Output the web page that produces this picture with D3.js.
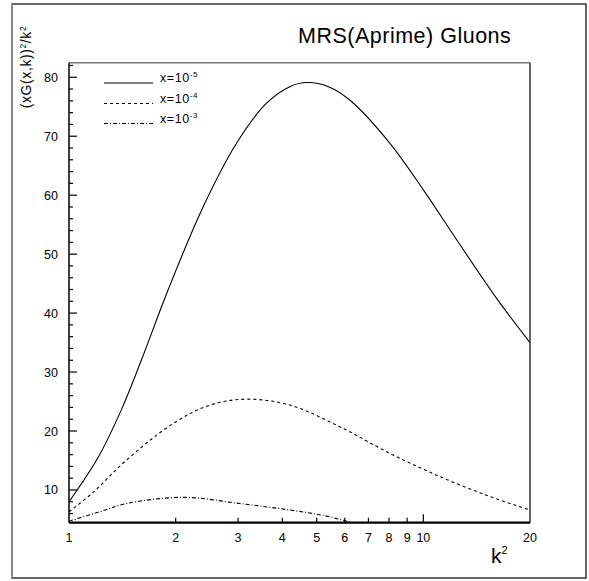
<!DOCTYPE html>
<html>
<head>
<meta charset="utf-8">
<script src="https://cdn.jsdelivr.net/npm/d3@7"></script>
<style>
  body { margin: 0; background: #fff; }
  text { font-family: "Liberation Sans", Arial, sans-serif; fill: #000; }
</style>
</head>
<body>
<div id="chart"></div>
<script>
// k^2 values and (xG(x,k))^2/k^2
const k5 = [1, 1.21, 1.41, 1.6, 1.9, 2.39, 2.97, 3.61, 4.2, 4.69, 5.4, 6.21, 8.05, 10, 12.43, 16.1, 20];
const g5 = [8.0, 15.6, 23.8, 32.0, 43.8, 58.0, 68.8, 75.6, 78.4, 79.1, 78.4, 76.1, 68.8, 60.9, 52.4, 42.5, 35.0];

const k4 = [1, 1.17, 1.455, 1.97, 2.5, 3.17, 4.2, 5.82, 8.05, 11.1, 15.4, 20];
const g4 = [6.3, 9.6, 15.1, 21.3, 24.4, 25.4, 24.4, 20.7, 16.2, 12.3, 8.9, 6.6];

const k3 = [1, 1.22, 1.455, 2.1, 3.04, 4.2, 5.2, 6.3];
const g3 = [4.7, 6.3, 7.7, 8.75, 7.7, 6.6, 5.7, 4.45];

const xTicks = [1, 2, 3, 4, 5, 6, 7, 8, 9, 10, 20];
const yTicks = [10, 20, 30, 40, 50, 60, 70, 80];
const legendLabels = ["-5", "-4", "-3"];

const W = 589, H = 581;
const margin = { top: 62.7, right: 59, bottom: 58.3, left: 69 };
const width = W - margin.left - margin.right;
const height = H - margin.top - margin.bottom;

const svg = d3.select("#chart").append("svg")
  .attr("width", W).attr("height", H);

// outer frame
svg.append("rect")
  .attr("x", 12).attr("y", 4).attr("width", 574).attr("height", 574)
  .attr("fill", "none").attr("stroke", "#333").attr("stroke-width", 1.5);
svg.append("line")
  .attr("x1", 12).attr("x2", 12).attr("y1", 4).attr("y2", 578)
  .attr("stroke", "#888").attr("stroke-width", 2);

const g = svg.append("g")
  .attr("transform", "translate(" + margin.left + "," + margin.top + ")");

const x = d3.scaleLog().domain([1, 20]).range([0, width]);
const y = d3.scaleLinear().domain([4.45, 82.47]).range([height, 0]);

g.append("clipPath").attr("id", "clip")
  .append("rect").attr("width", width).attr("height", height);

// plot box
g.append("line").attr("x1", 0).attr("x2", width).attr("y1", 0).attr("y2", 0)
  .attr("stroke", "#777").attr("stroke-width", 1.5);
g.append("line").attr("x1", width).attr("x2", width).attr("y1", 0).attr("y2", height)
  .attr("stroke", "#000").attr("stroke-width", 1.2);
g.append("line").attr("x1", 0).attr("x2", 0).attr("y1", 0).attr("y2", height)
  .attr("stroke", "#000").attr("stroke-width", 1.5);
g.append("line").attr("x1", 0).attr("x2", width).attr("y1", height).attr("y2", height)
  .attr("stroke", "#000").attr("stroke-width", 2.2);

// y ticks (inward)
const yMinor = d3.range(6, 83, 2);
g.selectAll(".ymin").data(yMinor).enter().append("line")
  .attr("x1", 0).attr("x2", d => d % 10 === 0 ? 8 : 4)
  .attr("y1", d => y(d)).attr("y2", d => y(d))
  .attr("stroke", "#000").attr("stroke-width", 1.2);
g.selectAll(".ylab").data(yTicks).enter().append("text")
  .attr("x", -11).attr("y", d => y(d) + 4.5)
  .attr("text-anchor", "end").attr("font-size", 12.5)
  .text(d => d);

// x ticks (inward)
g.selectAll(".xt").data(xTicks.slice(1, 10)).enter().append("line")
  .attr("x1", d => x(d)).attr("x2", d => x(d))
  .attr("y1", height).attr("y2", d => height - (d === 10 ? 8.5 : 5))
  .attr("stroke", "#000").attr("stroke-width", 1.2);
g.selectAll(".xlab").data(xTicks).enter().append("text")
  .attr("x", d => x(d)).attr("y", height + 19.5)
  .attr("text-anchor", "middle").attr("font-size", 12.5)
  .text(d => d);

// curves
const line = d3.line()
  .x(d => x(d[0])).y(d => y(d[1]))
  .curve(d3.curveCatmullRom.alpha(0.5));

const series = [
  { k: k5, v: g5, dash: null },
  { k: k4, v: g4, dash: "3,3" },
  { k: k3, v: g3, dash: "4,2,1,2" }
];

series.forEach(s => {
  g.append("path")
    .datum(d3.zip(s.k, s.v))
    .attr("clip-path", "url(#clip)")
    .attr("d", line)
    .attr("fill", "none").attr("stroke", "#000").attr("stroke-width", 1.1)
    .attr("stroke-dasharray", s.dash);
});

// legend
const legY = [83, 103.5, 123.5];
series.forEach((s, i) => {
  svg.append("line")
    .attr("x1", 104).attr("x2", 153).attr("y1", legY[i]).attr("y2", legY[i])
    .attr("stroke", "#000").attr("stroke-width", 1.1)
    .attr("stroke-dasharray", s.dash);
  const t = svg.append("text").attr("x", 160).attr("y", legY[i] - 1)
    .attr("font-size", 12.5).attr("letter-spacing", 0.6);
  t.append("tspan").text("x=10");
  t.append("tspan").attr("dy", -5).attr("font-size", 8).text(legendLabels[i]);
});

// title
svg.append("text")
  .attr("x", 298).attr("y", 43)
  .attr("font-size", 21.5).attr("letter-spacing", 0.5)
  .text("MRS(Aprime) Gluons");

// y label
const yl = svg.append("text")
  .attr("transform", "translate(31,67) rotate(-90)")
  .attr("text-anchor", "middle").attr("font-size", 14).attr("letter-spacing", 0.6);
yl.append("tspan").text("(xG(x,k))");
yl.append("tspan").attr("dy", -5).attr("font-size", 8.5).text("2");
yl.append("tspan").attr("dy", 5).text("/k");
yl.append("tspan").attr("dy", -5).attr("font-size", 8.5).text("2");

// x label
const xl = svg.append("text").attr("x", 491).attr("y", 563).attr("font-size", 21);
xl.append("tspan").text("k");
xl.append("tspan").attr("dy", -9).attr("font-size", 11).text("2");
</script>
</body>
</html>
